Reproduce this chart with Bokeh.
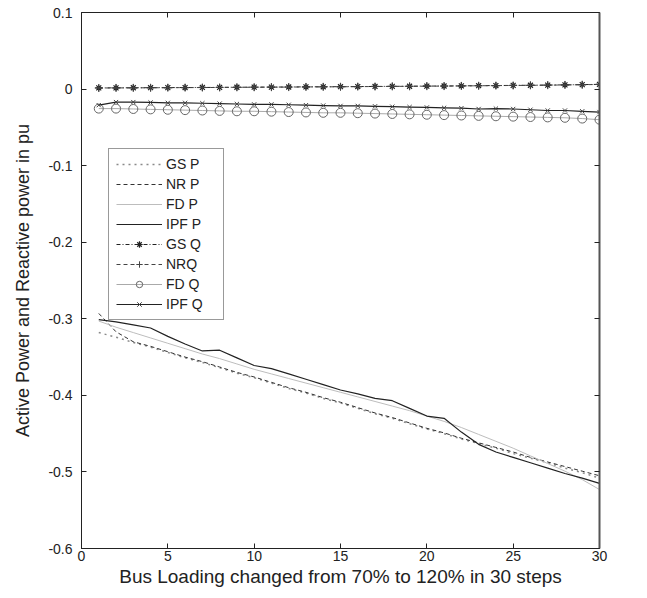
from bokeh.plotting import figure
from bokeh.models import LinearAxis, Legend, FixedTicker, Range1d
from bokeh.embed import file_html
from bokeh.resources import INLINE

steps = list(range(1, 31))

gs_p = [-0.318, -0.324, -0.331, -0.337, -0.344, -0.351, -0.357, -0.364, -0.371, -0.377,
        -0.384, -0.391, -0.397, -0.404, -0.410, -0.417, -0.424, -0.430, -0.437, -0.444,
        -0.450, -0.457, -0.463, -0.469, -0.476, -0.482, -0.488, -0.495, -0.501, -0.508]
nr_p = [-0.293, -0.317, -0.330, -0.336, -0.343, -0.350, -0.356, -0.363, -0.370, -0.376,
        -0.383, -0.390, -0.396, -0.403, -0.409, -0.416, -0.423, -0.429, -0.436, -0.443,
        -0.449, -0.456, -0.462, -0.468, -0.474, -0.481, -0.487, -0.493, -0.499, -0.505]
fd_p = [-0.303, -0.311, -0.318, -0.325, -0.332, -0.339, -0.346, -0.352, -0.359, -0.366,
        -0.372, -0.378, -0.384, -0.390, -0.396, -0.402, -0.408, -0.414, -0.420, -0.427,
        -0.434, -0.442, -0.451, -0.460, -0.469, -0.479, -0.489, -0.499, -0.510, -0.523]
ipf_p = [-0.301, -0.304, -0.308, -0.312, -0.323, -0.333, -0.342, -0.341, -0.351, -0.361,
         -0.365, -0.372, -0.379, -0.386, -0.393, -0.398, -0.404, -0.407, -0.417, -0.427,
         -0.430, -0.448, -0.464, -0.474, -0.481, -0.488, -0.495, -0.502, -0.508, -0.515]

gs_q = [0.0015, 0.0016, 0.0017, 0.0018, 0.0019, 0.0020, 0.0021, 0.0022, 0.0024, 0.0025,
        0.0026, 0.0027, 0.0029, 0.0030, 0.0031, 0.0033, 0.0034, 0.0036, 0.0037, 0.0039,
        0.0040, 0.0042, 0.0044, 0.0046, 0.0048, 0.0050, 0.0052, 0.0055, 0.0058, 0.0062]
nr_q = [0.0014, 0.0015, 0.0016, 0.0017, 0.0018, 0.0019, 0.0020, 0.0021, 0.0023, 0.0024,
        0.0025, 0.0026, 0.0028, 0.0029, 0.0030, 0.0032, 0.0033, 0.0035, 0.0036, 0.0038,
        0.0039, 0.0041, 0.0043, 0.0045, 0.0047, 0.0049, 0.0051, 0.0054, 0.0057, 0.0060]
fd_q = [-0.0255, -0.0255, -0.0260, -0.0265, -0.0270, -0.0275, -0.0280, -0.0285, -0.0290, -0.0290,
        -0.0295, -0.0300, -0.0305, -0.0310, -0.0310, -0.0315, -0.0320, -0.0325, -0.0330, -0.0335,
        -0.0340, -0.0345, -0.0350, -0.0355, -0.0360, -0.0365, -0.0370, -0.0375, -0.0385, -0.0400]
ipf_q = [-0.0210, -0.0170, -0.0170, -0.0175, -0.0180, -0.0180, -0.0185, -0.0190, -0.0195, -0.0200,
         -0.0200, -0.0205, -0.0210, -0.0215, -0.0220, -0.0220, -0.0225, -0.0230, -0.0235, -0.0240,
         -0.0245, -0.0250, -0.0260, -0.0255, -0.0260, -0.0270, -0.0280, -0.0280, -0.0290, -0.0300]

x_ticks = [0, 5, 10, 15, 20, 25, 30]
y_ticks = [0.1, 0, -0.1, -0.2, -0.3, -0.4, -0.5, -0.6]

FONT = "Liberation Sans"

p = figure(frame_width=518, frame_height=536, output_backend="svg", toolbar_location=None,
           x_range=Range1d(0, 30), y_range=Range1d(-0.6, 0.1),
           min_border_left=81, min_border_right=24, min_border_top=12, min_border_bottom=5)
p.grid.visible = False
p.outline_line_color = "#222222"
p.outline_line_width = 1

for ax in [p.xaxis[0], p.yaxis[0]]:
    ax.major_tick_in = 5
    ax.major_tick_out = 0
    ax.minor_tick_line_color = None
    ax.axis_line_color = "#222222"
    ax.major_tick_line_color = "#222222"
    ax.major_label_text_font = FONT
    ax.major_label_text_font_size = "14px"
    ax.major_label_text_color = "#222222"
    ax.axis_label_text_font = FONT
    ax.axis_label_text_font_style = "normal"
    ax.axis_label_text_color = "#222222"

p.xaxis[0].axis_label_text_font_size = "19px"
p.yaxis[0].axis_label_text_font_size = "18px"
p.xaxis[0].ticker = FixedTicker(ticks=x_ticks)
p.yaxis[0].ticker = FixedTicker(ticks=y_ticks)
p.yaxis[0].major_label_overrides = {0.1: "0.1", 0: "0", -0.1: "-0.1", -0.2: "-0.2", -0.3: "-0.3",
                                    -0.4: "-0.4", -0.5: "-0.5", -0.6: "-0.6"}
p.xaxis[0].axis_label = "Bus Loading changed from 70% to 120% in 30 steps"
p.yaxis[0].axis_label = "Active Power and Reactive power in pu"
p.xaxis[0].major_label_standoff = 2
p.yaxis[0].major_label_standoff = 9
p.xaxis[0].axis_label_standoff = 2
p.yaxis[0].axis_label_standoff = 12

top = LinearAxis(ticker=FixedTicker(ticks=x_ticks), major_tick_in=5, major_tick_out=0,
                 minor_tick_line_color=None, major_label_text_color=None,
                 axis_line_color=None, major_tick_line_color="#222222")
right = LinearAxis(ticker=FixedTicker(ticks=y_ticks), major_tick_in=5, major_tick_out=0,
                   minor_tick_line_color=None, major_label_text_color=None,
                   axis_line_color="#555555", axis_line_width=2, major_tick_line_color="#222222")
p.add_layout(top, "above")
p.add_layout(right, "right")

items = []
r1 = p.line(steps, gs_p, line_color="#8a8a8a", line_dash="dotted", line_width=1.5)
items.append(("GS P", [r1]))
r2 = p.line(steps, nr_p, line_color="#333333", line_dash="4 3", line_width=1)
items.append(("NR P", [r2]))
r3 = p.line(steps, fd_p, line_color="#bdbdbd", line_width=1)
items.append(("FD P", [r3]))
r4 = p.line(steps, ipf_p, line_color="#222222", line_width=1.2)
items.append(("IPF P", [r4]))

r5 = p.line(steps, gs_q, line_color="#222222", line_dash="4 2 1 2", line_width=1)
r5m = p.scatter(steps, gs_q, marker="asterisk", size=7, line_color="#222222", line_width=1.2)
items.append(("GS Q", [r5, r5m]))
r6 = p.line(steps, nr_q, line_color="#444444", line_dash="4 3", line_width=1)
r6m = p.scatter(steps, nr_q, marker="cross", size=8, line_color="#444444", line_width=1)
items.append(("NRQ", [r6, r6m]))
r7 = p.line(steps, fd_q, line_color="#aaaaaa", line_width=1)
r7m = p.scatter(steps, fd_q, marker="circle", size=9, line_color="#666666", fill_color=None, line_width=1)
items.append(("FD Q", [r7, r7m]))
r8 = p.line(steps, ipf_q, line_color="#222222", line_width=1.2)
r8m = p.scatter(steps, ipf_q, marker="x", size=6, line_color="#444444", line_width=1)
items.append(("IPF Q", [r8, r8m]))

legend = Legend(items=items, location=(27, 228), glyph_width=46, glyph_height=16,
                label_height=16, label_width=50, label_text_font=FONT, label_text_font_size="14px",
                label_text_color="#222222", label_standoff=4, spacing=4, padding=7, margin=0,
                border_line_color="#333333", border_line_width=1.5,
                background_fill_alpha=1)
p.add_layout(legend, "center")

open("out.html", "w").write(file_html(p, INLINE))
